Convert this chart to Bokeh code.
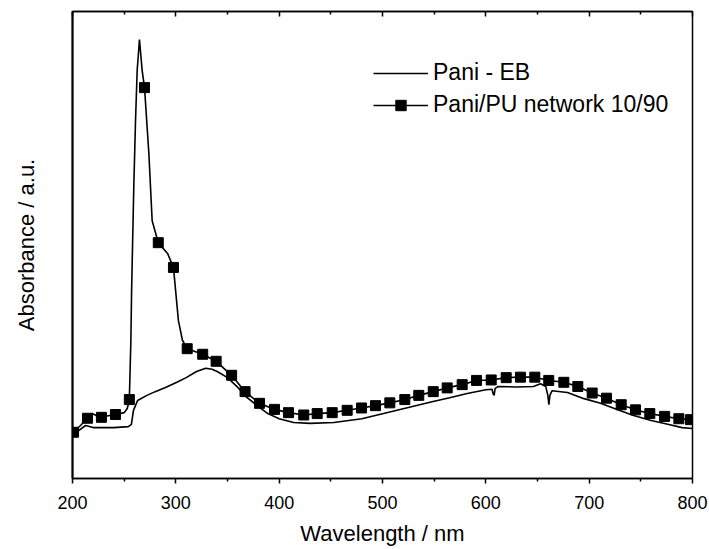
from bokeh.plotting import figure
from bokeh.models import (Range1d, FixedTicker, LinearAxis, Legend, LegendItem,
                          CustomJSTickFormatter)
from bokeh.embed import file_html
from bokeh.resources import INLINE

# ---- data ----
eb_wl = [200, 205, 212.6, 220, 230, 240, 254, 257, 259, 263,
         272, 280, 290, 301, 310, 320, 329, 335, 340, 350,
         360, 369, 380, 389, 400, 414, 430, 453, 480, 501,
         525, 549, 565, 582, 600, 606, 607, 608, 609, 612,
         630, 646, 653, 658, 660, 661, 662, 664, 679, 695,
         711, 727, 743, 760, 776, 790, 800]
eb_abs = [9.6, 10.1, 11.35, 10.9, 10.9, 10.9, 11.1, 11.6, 14.6, 16.7,
          17.8, 18.6, 19.5, 20.6, 21.6, 22.9, 23.6, 23.4, 22.9, 21.6,
          19.5, 17.3, 15.4, 13.9, 12.8, 12.0, 11.8, 12.0, 12.8, 13.9,
          15.2, 16.5, 17.3, 18.2, 19.0, 19.1, 18.2, 17.8, 19.3, 19.7,
          19.6, 19.7, 20.3, 19.7, 17.8, 15.8, 17.8, 18.8, 18.4, 17.1,
          16.1, 14.8, 13.5, 12.4, 11.6, 10.9, 10.7]

net_wl = [200, 201, 208, 214.5, 219, 223, 228, 236, 241.6, 250,
          253, 255, 256.5, 257.2, 259.3, 261, 262.6, 264.8, 267.4, 269.7,
          273.9, 277.1, 283, 292, 297.7, 302.5, 306.4, 311, 326, 339,
          354, 367, 381, 395.5, 409, 423.8, 436.8, 451.3, 465.8, 479.7,
          493.2, 507.1, 521.6, 535.1, 549.1, 562.6, 577.1, 591.0, 605.2, 619.7,
          633.5, 647.4, 660.9, 675.5, 689.0, 702.9, 716.8, 731.0, 744.8, 758.7,
          773.0, 786.8, 798.1, 800]
net_abs = [9.4, 9.9, 11.4, 12.9, 13.9, 13.5, 13.1, 13.5, 13.7, 14.1,
           15.0, 16.9, 29.6, 40.3, 62.3, 76.7, 87.4, 94.0, 87.4, 83.7,
           69.6, 55.2, 50.5, 48.2, 45.2, 33.8, 29.6, 27.8, 26.6, 25.1,
           22.1, 18.6, 16.1, 14.8, 14.1, 13.6, 13.9, 14.1, 14.6, 15.1,
           15.6, 16.2, 16.9, 17.8, 18.6, 19.4, 20.1, 21.0, 21.1, 21.6,
           21.7, 21.7, 21.0, 20.6, 19.7, 18.3, 17.2, 15.8, 14.7, 13.9,
           13.3, 12.8, 12.6, 12.5]

marker_wl = [201, 214.5, 228, 241.6, 255, 269.7, 283, 297.7, 311, 326,
             339, 354, 367, 381, 395.5, 409, 423.8, 436.8, 451.3, 465.8,
             479.7, 493.2, 507.1, 521.6, 535.1, 549.1, 562.6, 577.1, 591.0,
             605.2, 619.7, 633.5, 647.4, 660.9, 675.5, 689.0, 702.9, 716.8,
             731.0, 744.8, 758.7, 773.0, 786.8, 798.1]
marker_abs = [net_abs[net_wl.index(w)] for w in marker_wl]

x_major = [200, 300, 400, 500, 600, 700, 800]
x_minor = [250, 350, 450, 550, 650, 750]

FONT = "Liberation Sans"

p = figure(width=709, height=549, output_backend="svg", toolbar_location=None,
           x_range=Range1d(200, 800), y_range=Range1d(0, 100),
           min_border_left=72, min_border_right=17, min_border_top=11,
           min_border_bottom=71, x_axis_location="below")
p.grid.visible = False
p.background_fill_color = "white"
p.border_fill_color = "white"
p.outline_line_color = "black"
p.outline_line_width = 1.5

r_eb = p.line(eb_wl, eb_abs, line_color="black", line_width=1.6)
r_net = p.line(net_wl, net_abs, line_color="black", line_width=1.6)
r_mk = p.scatter(marker_wl, marker_abs, marker="square", size=10,
                 fill_color="black", line_color="black")

# bottom axis
xa = p.xaxis[0]
xa.ticker = FixedTicker(ticks=x_major, minor_ticks=x_minor)
xa.axis_line_width = 1.5
xa.major_tick_line_width = 1.5
xa.minor_tick_line_width = 1.5
xa.major_tick_out = 5
xa.major_tick_in = 0
xa.minor_tick_out = 3
xa.minor_tick_in = 0
xa.major_label_text_font = FONT
xa.major_label_text_font_size = "18px"
xa.major_label_text_color = "black"
xa.major_label_standoff = 12
xa.axis_label = "Wavelength / nm"
xa.axis_label_text_font = FONT
xa.axis_label_text_font_size = "22px"
xa.axis_label_text_font_style = "normal"
xa.axis_label_text_color = "black"
xa.axis_label_standoff = 9

# left axis
ya = p.yaxis[0]
ya.axis_line_width = 2
ya.major_tick_line_color = None
ya.minor_tick_line_color = None
ya.major_label_text_font_size = "0px"
ya.axis_label = "Absorbance / a.u."
ya.axis_label_text_font = FONT
ya.axis_label_text_font_size = "22px"
ya.axis_label_text_font_style = "normal"
ya.axis_label_text_color = "black"
ya.axis_label_standoff = 28

# top axis with inward ticks
ta = LinearAxis(ticker=FixedTicker(ticks=x_major, minor_ticks=x_minor),
                formatter=CustomJSTickFormatter(code="return ''"))
ta.axis_line_width = 1.5
ta.major_tick_line_width = 1.5
ta.minor_tick_line_width = 1.5
ta.major_tick_in = 5
ta.major_tick_out = 0
ta.minor_tick_in = 3
ta.minor_tick_out = 0
ta.major_label_text_font_size = "0px"
ta.major_label_standoff = 0
p.add_layout(ta, "above")

legend = Legend(items=[
    LegendItem(label="Pani - EB", renderers=[r_eb]),
    LegendItem(label="Pani/PU network 10/90", renderers=[r_net, r_mk]),
], location=(301, 360))
legend.border_line_color = None
legend.background_fill_alpha = 0
legend.padding = 0
legend.margin = 0
legend.spacing = 5
legend.glyph_width = 55
legend.glyph_height = 26
legend.label_height = 26
legend.label_standoff = 5
legend.label_text_font = FONT
legend.label_text_font_size = "23px"
legend.label_text_color = "black"
p.add_layout(legend, "center")

open("out.html", "w").write(file_html(p, INLINE))
